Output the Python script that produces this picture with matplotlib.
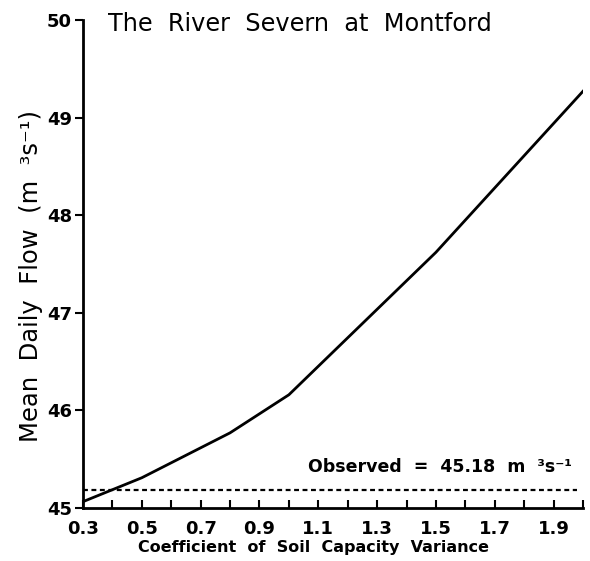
import numpy as np
import matplotlib
matplotlib.use('Agg')
import matplotlib.pyplot as plt
from matplotlib.ticker import FixedLocator

cv = [0.3, 0.5, 0.8, 1.0, 1.5, 2.0]
mean_flow = [45.065, 45.31, 45.77, 46.16, 47.62, 49.27]
observed = 45.18
xticks = [0.3, 0.5, 0.7, 0.9, 1.1, 1.3, 1.5, 1.7, 1.9]
xminor = [0.4, 0.6, 0.8, 1.0, 1.2, 1.4, 1.6, 1.8, 2.0]
yticks = [45, 46, 47, 48, 49, 50]

plt.rcParams['font.family'] = 'DejaVu Sans'

fig = plt.figure(figsize=(5.9, 5.61), dpi=100)
ax = fig.add_axes([83 / 590, 53 / 561, 500 / 590, 488 / 561])

ax.plot(cv, mean_flow, color='black', linewidth=2)
ax.plot([0.3, 1.98], [observed, observed], color='black', linewidth=1.6,
        linestyle=(0, (2.2, 1.6)))

ax.set_xlim(0.3, 2.0)
ax.set_ylim(45, 50)

ax.spines['top'].set_visible(False)
ax.spines['right'].set_visible(False)
for s in ['left', 'bottom']:
    ax.spines[s].set_linewidth(2)

ax.xaxis.set_major_locator(FixedLocator(xticks))
ax.xaxis.set_minor_locator(FixedLocator(xminor))
ax.set_xticklabels([f'{t:.1f}' for t in xticks], fontsize=13, fontweight='bold')
ax.set_yticks(yticks)
ax.set_yticklabels([str(t) for t in yticks], fontsize=13, fontweight='bold')

ax.tick_params(axis='x', which='both', direction='in', length=6, width=1.5, pad=9)
ax.tick_params(axis='y', which='major', direction='out', length=6, width=1.5, pad=2)

ax.set_xlabel('Coefficient  of  Soil  Capacity  Variance', fontsize=11.5,
              fontweight='bold', labelpad=3)
ax.xaxis.set_label_coords(0.461, -0.065)
ax.set_ylabel('Mean  Daily  Flow  (m  ³s⁻¹)', fontsize=17.5)
ax.yaxis.set_label_coords(-0.08, 0.475)

ax.text(0.05, 0.992, 'The  River  Severn  at  Montford', transform=ax.transAxes,
        fontsize=17.3, ha='left', va='center')
ax.text(1.065, 45.42, 'Observed  =  45.18  m  ³s⁻¹', fontsize=12.5,
        fontweight='bold', ha='left', va='center')

fig.savefig('out.png', dpi=100)
